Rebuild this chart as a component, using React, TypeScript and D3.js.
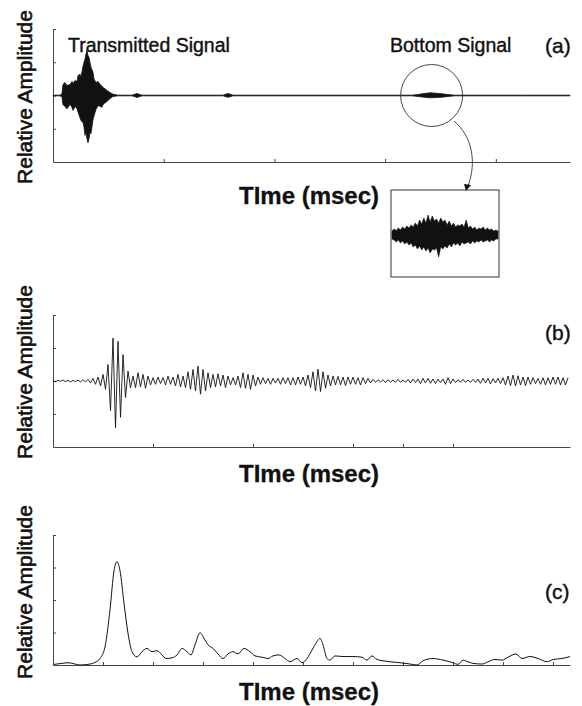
import * as d3 from "d3";
import React, { useEffect, useRef } from "react";

// panel (a): envelope of the received signal (time in msec, relative amplitude)
const aTime = [0, 0.063, 0.081, 0.09, 0.108, 0.126, 0.154, 0.172, 0.181, 0.199, 0.217, 0.226, 0.244, 0.253, 0.271, 0.28, 0.289, 0.298, 0.307, 0.316, 0.325, 0.334, 0.343, 0.361, 0.37, 0.388, 0.407, 0.425, 0.443, 0.452, 0.47, 0.488, 0.515, 0.542, 0.587, 0.714, 0.741, 0.759, 0.777, 0.804, 1.147, 1.536, 1.563, 1.581, 1.599, 1.626, 2.231, 2.773, 3.243, 3.297, 3.351, 3.406, 3.46, 3.514, 3.568, 3.631, 4.219, 4.67];
const aUpper = [0.01, 0.01, 0.05, 0.33, 0.39, 0.3, 0.33, 0.42, 0.36, 0.45, 0.42, 0.6, 0.64, 0.55, 0.88, 1.0, 1.09, 1.25, 1.36, 1.2, 1.15, 1.0, 0.85, 0.7, 0.5, 0.39, 0.42, 0.33, 0.28, 0.24, 0.2, 0.15, 0.09, 0.04, 0.01, 0.01, 0.04, 0.06, 0.04, 0.01, 0.01, 0.01, 0.04, 0.06, 0.04, 0.01, 0.01, 0.01, 0.01, 0.03, 0.06, 0.08, 0.07, 0.05, 0.03, 0.01, 0.01, 0.01];
const aLower = [-0.01, -0.01, -0.04, -0.27, -0.33, -0.4, -0.27, -0.36, -0.45, -0.33, -0.4, -0.5, -0.67, -0.75, -0.82, -0.95, -1.2, -1.1, -1.3, -1.42, -1.3, -1.1, -1.15, -0.73, -0.62, -0.42, -0.3, -0.33, -0.35, -0.27, -0.22, -0.18, -0.09, -0.03, -0.01, -0.01, -0.04, -0.06, -0.04, -0.01, -0.01, -0.01, -0.04, -0.05, -0.04, -0.01, -0.01, -0.01, -0.01, -0.03, -0.05, -0.07, -0.06, -0.05, -0.03, -0.01, -0.01, -0.01];

// inset: zoom on the bottom signal, sampled every insetStep
const insetStep = 0.02;
const insetUpper = [0.4, 0.6, 0.45, 0.7, 0.5, 0.8, 0.6, 0.9, 0.7, 1.0, 0.8, 1.2, 0.9, 1.5, 1.1, 1.7, 1.2, 2.0, 1.3, 1.9, 1.4, 1.6, 1.2, 1.7, 1.3, 1.5, 1.0, 1.4, 0.9, 1.2, 0.8, 1.0, 0.9, 1.1, 0.8, 1.5, 0.7, 0.9, 0.6, 0.8, 0.5, 0.7, 0.6, 0.8, 0.5, 0.7, 0.5, 0.6, 0.4, 0.5, 0.4];
const insetLower = [-0.4, -0.5, -0.7, -0.5, -0.8, -0.6, -0.9, -0.7, -1.0, -0.8, -1.2, -1.0, -1.4, -1.1, -1.5, -1.2, -1.6, -1.3, -1.8, -1.4, -1.5, -1.3, -2.2, -1.2, -1.4, -1.1, -1.3, -0.9, -1.2, -0.8, -1.0, -0.8, -1.1, -0.7, -0.9, -0.8, -0.7, -0.9, -0.6, -0.8, -0.6, -0.7, -0.5, -0.7, -0.6, -0.5, -0.7, -0.5, -0.6, -0.4, -0.4];

// panel (b): matched filter output, sampled every bStep msec
const bStep = 0.05;
const bValues = [
  0.01, -0.02, 0.02, -0.01, 0.03, -0.02, 0.02, -0.03, 0.02, -0.02,
  0.03, -0.03, 0.04, -0.03, 0.05, -0.06, 0.08, -0.1, 0.12, -0.15,
  0.2, -0.25, 0.5, -0.9, 1.3, -1.42, 1.2, -1.1, 0.8, -0.5,
  0.3, -0.2, 0.15, -0.2, 0.25, -0.18, 0.2, -0.22, 0.15, -0.12,
  0.1, -0.1, 0.12, -0.08, 0.1, -0.12, 0.15, -0.1, 0.12, -0.15,
  0.2, -0.18, 0.15, -0.2, 0.28, -0.25, 0.35, -0.3, 0.45, -0.4,
  0.35, -0.3, 0.25, -0.2, 0.2, -0.18, 0.22, -0.15, 0.18, -0.2,
  0.15, -0.12, 0.1, -0.12, 0.15, -0.2, 0.25, -0.22, 0.2, -0.25,
  0.18, -0.15, 0.12, -0.1, 0.1, -0.08, 0.08, -0.1, 0.08, -0.06,
  0.08, -0.1, 0.1, -0.08, 0.1, -0.12, 0.1, -0.12, 0.12, -0.1,
  0.12, -0.15, 0.18, -0.2, 0.28, -0.3, 0.36, -0.32, 0.28, -0.22,
  0.18, -0.15, 0.15, -0.12, 0.14, -0.12, 0.12, -0.14, 0.12, -0.1,
  0.12, -0.1, 0.1, -0.12, 0.1, -0.08, 0.08, -0.06, 0.05, -0.04,
  0.04, -0.03, 0.04, -0.05, 0.04, -0.03, 0.03, -0.04, 0.05, -0.04,
  0.03, -0.04, 0.05, -0.06, 0.06, -0.05, 0.06, -0.08, 0.08, -0.06,
  0.08, -0.07, 0.06, -0.08, 0.06, -0.05, 0.06, -0.1, 0.1, -0.08,
  0.06, -0.05, 0.04, -0.04, 0.05, -0.04, 0.03, -0.04, 0.05, -0.04,
  0.06, -0.07, 0.08, -0.06, 0.08, -0.09, 0.07, -0.06, 0.08, -0.08,
  0.1, -0.12, 0.15, -0.14, 0.18, -0.15, 0.16, -0.12, 0.12, -0.14,
  0.12, -0.1, 0.1, -0.08, 0.08, -0.1, 0.1, -0.12, 0.1, -0.1,
  0.12, -0.1, 0.12, -0.12, 0.1, -0.12, 0.1,
];

// panel (c): envelope
const cTime = [0.02, 0.18, 0.3, 0.44, 0.54, 0.7, 0.84, 0.94, 1.04, 1.14, 1.22, 1.28, 1.34, 1.42, 1.5, 1.58, 1.68, 1.78, 1.88, 1.98, 2.08, 2.18, 2.26, 2.38, 2.48, 2.58, 2.68, 2.76, 2.84, 2.94, 3.04, 3.1, 3.2, 3.3, 3.4, 3.5, 3.6, 3.7, 3.82, 3.94, 4.04, 4.18, 4.3, 4.4, 4.52, 4.64, 4.74, 4.88, 4.98, 5.08, 5.18, 5.28, 5.34, 5.4, 5.48, 5.54, 5.64, 5.8, 6.0, 6.18, 6.28, 6.38, 6.48, 6.6, 6.74, 6.94, 7.14, 7.28, 7.4, 7.6, 7.8, 8.0, 8.1, 8.2, 8.3, 8.4, 8.58, 8.7, 8.84, 8.98, 9.1, 9.26, 9.38, 9.54, 9.7, 9.88, 10.0, 10.18, 10.34];
const cAmp = [0.02, 0.05, 0.07, 0.03, 0.0, 0.02, 0.08, 0.2, 0.56, 1.7, 2.9, 3.18, 2.9, 1.9, 0.98, 0.41, 0.25, 0.41, 0.51, 0.41, 0.44, 0.31, 0.2, 0.22, 0.31, 0.51, 0.41, 0.31, 0.62, 0.99, 0.77, 0.62, 0.51, 0.34, 0.2, 0.34, 0.41, 0.34, 0.51, 0.41, 0.28, 0.24, 0.2, 0.28, 0.31, 0.2, 0.1, 0.2, 0.07, 0.2, 0.46, 0.72, 0.82, 0.62, 0.2, 0.15, 0.28, 0.26, 0.26, 0.24, 0.15, 0.28, 0.17, 0.13, 0.1, 0.07, 0.03, 0.0, 0.13, 0.2, 0.15, 0.07, 0.02, 0.15, 0.1, 0.05, 0.03, 0.1, 0.17, 0.15, 0.24, 0.34, 0.2, 0.26, 0.2, 0.1, 0.17, 0.2, 0.26];

const panelLabels = ["(a)", "(b)", "(c)"];
const yLabel = "Relative Amplitude";
const xLabel = "TIme (msec)";

const W = 582;
const H = 706;
const FONT = "Arial, 'Liberation Sans', sans-serif";
const INK = "#111";

const App = () => {
  const ref = useRef<SVGSVGElement>(null);

  useEffect(() => {
    const svg = d3.select(ref.current);
    svg.selectAll("*").remove();
    const left = 53;
    const right = 570;

    const drawAxes = (g, x, y, xTicks, yTicks) => {
      const [y0] = y.range();
      g.append("g")
        .attr("transform", `translate(0, ${y0})`)
        .call(d3.axisBottom(x).tickValues(xTicks).tickSize(-3).tickSizeOuter(0).tickFormat(() => ""));
      g.append("g")
        .attr("transform", `translate(${left}, 0)`)
        .call(d3.axisLeft(y).tickValues(yTicks).tickSize(-3).tickSizeOuter(0).tickFormat(() => ""));
      g.selectAll(".domain, .tick line").attr("stroke", "#444").attr("stroke-width", 1);
    };

    // scanned text looks heavy: add a thin stroke of the same colour
    const heavy = (t, w) => t.style("fill", INK).style("stroke", INK).style("stroke-width", w);

    const labels = (g, cy, axisLabelY, tag, tagY) => {
      heavy(
        g.append("text")
          .attr("transform", `translate(32, ${cy}) rotate(-90)`)
          .attr("text-anchor", "middle")
          .style("font-family", FONT)
          .style("font-size", "21px")
          .text(yLabel),
        0.6
      );
      heavy(
        g.append("text")
          .attr("x", 309)
          .attr("y", axisLabelY)
          .attr("text-anchor", "middle")
          .style("font-family", FONT)
          .style("font-size", "24px")
          .style("font-weight", "bold")
          .text(xLabel),
        0.3
      );
      heavy(
        g.append("text")
          .attr("x", 545)
          .attr("y", tagY)
          .style("font-family", FONT)
          .style("font-size", "21px")
          .text(tag),
        0.4
      );
    };

    // Panel (a)
    const ga = svg.append("g");
    const xa = d3.scaleLinear().domain([0, 4.67]).range([left, right]);
    const ya = d3.scaleLinear().domain([-2, 2]).range([162, 29]);
    drawAxes(ga, xa, ya, [1, 2, 3, 4], [-1, 0, 1, 2]);
    const areaA = d3
      .area<number>()
      .x((d, i) => xa(aTime[i]))
      .y0((d, i) => ya(aLower[i]))
      .y1((d, i) => ya(aUpper[i]));
    ga.append("path")
      .datum(aTime)
      .attr("d", areaA)
      .attr("fill", INK)
      .attr("stroke", INK)
      .attr("stroke-width", 0.8);
    labels(ga, 97, 204, panelLabels[0], 53);
    heavy(
      ga.append("text")
        .attr("x", 68)
        .attr("y", 52)
        .style("font-family", FONT)
        .style("font-size", "19.5px")
        .text("Transmitted Signal"),
      0.4
    );
    heavy(
      ga.append("text")
        .attr("x", 390)
        .attr("y", 52)
        .style("font-family", FONT)
        .style("font-size", "19.5px")
        .text("Bottom Signal"),
      0.4
    );

    // circle + arrow to inset
    ga.append("circle")
      .attr("cx", xa(3.42))
      .attr("cy", ya(0))
      .attr("r", 31)
      .attr("fill", "none")
      .attr("stroke", "#333")
      .attr("stroke-width", 0.9);
    ga.append("path")
      .attr("d", "M454,121 C472,136 477,162 468,186")
      .attr("fill", "none")
      .attr("stroke", "#333")
      .attr("stroke-width", 0.9);
    ga.append("path")
      .attr("d", "M464,184 L471,185 L466,191 Z")
      .attr("fill", INK);

    // inset
    const xi = d3.scaleLinear().domain([0, 1]).range([392, 498]);
    const yi = d3.scaleLinear().domain([-4.2, 4.5]).range([277, 190]);
    ga.append("rect")
      .attr("x", 391)
      .attr("y", 190)
      .attr("width", 108)
      .attr("height", 87)
      .attr("fill", "none")
      .attr("stroke", "#333")
      .attr("stroke-width", 1);
    const areaI = d3
      .area<number>()
      .x((d, i) => xi(i * insetStep))
      .y0((d, i) => yi(insetLower[i]))
      .y1((d) => yi(d));
    ga.append("path")
      .datum(insetUpper)
      .attr("d", areaI)
      .attr("fill", INK)
      .attr("stroke", INK)
      .attr("stroke-width", 0.6);

    // Panel (b)
    const gb = svg.append("g");
    const xb = d3.scaleLinear().domain([0, 10.34]).range([left, right]);
    const yb = d3.scaleLinear().domain([-2, 2]).range([447, 315]);
    drawAxes(gb, xb, yb, [2, 4, 6, 7, 8], [-1, 0, 1, 2]);
    const lineB = d3
      .line<number>()
      .x((d, i) => xb(i * bStep))
      .y((d) => yb(d));
    gb.append("path")
      .datum(bValues)
      .attr("d", lineB)
      .attr("fill", "none")
      .attr("stroke", INK)
      .attr("stroke-width", 0.9);
    labels(gb, 372, 482, panelLabels[1], 340);

    // Panel (c)
    const gc = svg.append("g");
    const xc = d3.scaleLinear().domain([0, 10.34]).range([left, right]);
    const yc = d3.scaleLinear().domain([0, 4]).range([665, 535]);
    drawAxes(gc, xc, yc, [1, 2, 3, 4, 5, 6, 7, 8, 9, 10], [1, 2, 3, 4]);
    const lineC = d3
      .line<number>()
      .x((d, i) => xc(cTime[i]))
      .y((d) => yc(d))
      .curve(d3.curveMonotoneX);
    gc.append("path")
      .datum(cAmp)
      .attr("d", lineC)
      .attr("fill", "none")
      .attr("stroke", INK)
      .attr("stroke-width", 1);
    labels(gc, 592, 700, panelLabels[2], 599);
  }, []);

  return (
    <svg
      ref={ref}
      width={W}
      height={H}
      style={{ position: "absolute", left: 0, top: 0, background: "#fff" }}
    />
  );
};

export default App;
